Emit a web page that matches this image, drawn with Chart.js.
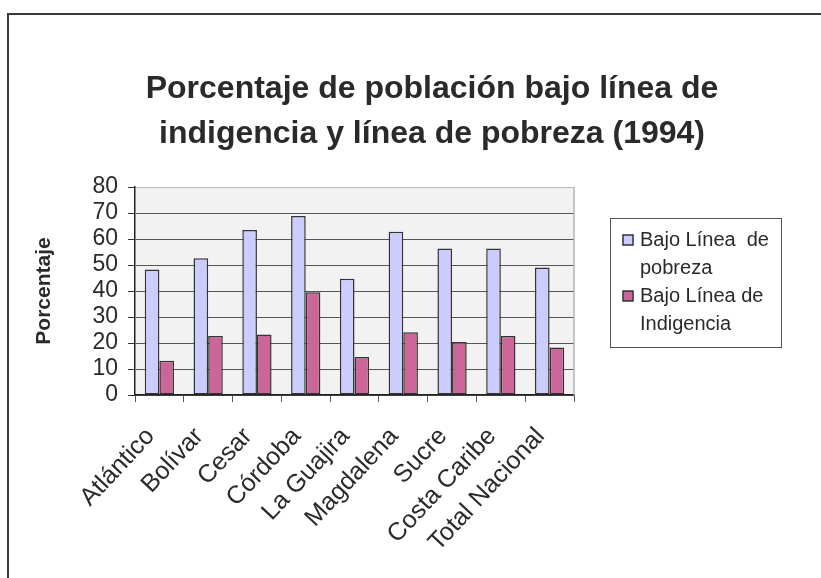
<!DOCTYPE html>
<html>
<head>
<meta charset="utf-8">
<script src="https://cdn.jsdelivr.net/npm/chart.js@4"></script>
<style>
  body { margin: 0; background: #fff; }
  #wrap { position: relative; width: 821px; height: 578px; overflow: hidden; }
  #frame { position: absolute; left: 7px; top: 13px; width: 900px; height: 700px;
           border-left: 2px solid #3a3a3a; border-top: 2px solid #3a3a3a; }
  canvas { position: absolute; left: 0; top: 0; }
</style>
</head>
<body>
<div id="wrap">
  <div id="frame"></div>
  <canvas id="chart" width="821" height="578"></canvas>
</div>
<script>
// datos
var departamentos = ['Atlántico', 'Bolívar', 'Cesar', 'Córdoba', 'La Guajira', 'Magdalena', 'Sucre', 'Costa Caribe', 'Total Nacional'];
var pobreza = [48.3, 52.6, 63.5, 68.8, 44.7, 62.8, 56.3, 56.3, 49.0];
var indigencia = [13.2, 22.7, 23.3, 39.5, 14.6, 24.1, 20.4, 22.7, 18.3];
var yTicks = [0, 10, 20, 30, 40, 50, 60, 70, 80];

var tituloLineas = ['Porcentaje de población bajo línea de', 'indigencia y línea de pobreza (1994)'];
var leyendaLineas = [['Bajo Línea  de', 'pobreza'], ['Bajo Línea de', 'Indigencia']];

var FONT = '"Liberation Sans", Arial, sans-serif';
Chart.defaults.font.family = FONT;

// fondo del area de trazado, titulo y leyenda
var decoracion = {
    id: 'decoracion',
    beforeDraw: function(chart) {
        var a = chart.chartArea, ctx = chart.ctx;
        ctx.save();
        ctx.fillStyle = '#f2f2f2';
        ctx.fillRect(a.left, a.top, a.right - a.left, a.bottom - a.top);
        ctx.restore();
    },
    beforeDatasetsDraw: function(chart) {
        var a = chart.chartArea, ctx = chart.ctx;
        ctx.save();
        ctx.strokeStyle = '#b4b4b4';
        ctx.lineWidth = 1.5;
        ctx.beginPath();
        ctx.moveTo(a.right, a.top);
        ctx.lineTo(a.right, a.bottom);
        ctx.stroke();
        ctx.restore();
    },
    afterDraw: function(chart) {
        var ctx = chart.ctx;
        ctx.save();
        // titulo
        ctx.fillStyle = '#2a2a2a';
        ctx.font = 'bold 32px ' + FONT;
        ctx.textAlign = 'center';
        ctx.textBaseline = 'middle';
        tituloLineas.forEach(function(t, i) {
            ctx.fillText(t, 432, 89 + i * 45);
        });
        // leyenda
        ctx.strokeStyle = '#555';
        ctx.lineWidth = 1;
        ctx.strokeRect(610.5, 218.5, 171, 129);
        ctx.font = '20px ' + FONT;
        ctx.textAlign = 'left';
        var y = 240;
        chart.data.datasets.forEach(function(ds, i) {
            ctx.fillStyle = ds.backgroundColor;
            ctx.fillRect(623, y - 5, 10, 10);
            ctx.strokeStyle = '#333';
            ctx.lineWidth = 1.5;
            ctx.strokeRect(623, y - 5, 10, 10);
            ctx.fillStyle = '#2a2a2a';
            leyendaLineas[i].forEach(function(l) {
                ctx.fillText(l, 640, y);
                y += 28;
            });
        });
        ctx.restore();
    }
};

var ctx = document.getElementById('chart').getContext('2d');
var grafico = new Chart(ctx, {
    type: 'bar',
    data: {
        labels: departamentos,
        datasets: [{
            label: 'Bajo Línea de pobreza',
            data: pobreza,
            backgroundColor: '#ccccff',
            borderColor: '#333333',
            borderWidth: 1.5,
            borderSkipped: false,
            categoryPercentage: 0.6,
            barPercentage: 1.0
        }, {
            label: 'Bajo Línea de Indigencia',
            data: indigencia,
            backgroundColor: '#cc6699',
            borderColor: '#333333',
            borderWidth: 1.5,
            borderSkipped: false,
            categoryPercentage: 0.6,
            barPercentage: 1.0
        }]
    },
    options: {
        responsive: false,
        animation: false,
        layout: { padding: { top: 187, right: 247, left: 0, bottom: 0 } },
        plugins: {
            legend: { display: false },
            title: { display: false },
            tooltip: { enabled: false }
        },
        scales: {
            x: {
                grid: { offset: true, drawOnChartArea: false, drawTicks: true, tickLength: 7, tickColor: '#555' },
                border: { color: '#222', width: 1.5 },
                ticks: { color: '#2a2a2a', font: { size: 25 }, minRotation: 47, maxRotation: 47, padding: 20, labelOffset: -9 },
                afterFit: function(s) { s.height = 183; }
            },
            y: {
                min: 0,
                max: 80,
                afterBuildTicks: function(s) { s.ticks = yTicks.map(function(v) { return { value: v }; }); },
                grid: {
                    color: function(c) { return c.tick && c.tick.value === 80 ? '#b8b8b8' : '#555'; },
                    tickColor: '#333',
                    tickLength: 7
                },
                border: { color: '#222', width: 1.5 },
                ticks: { color: '#2a2a2a', font: { size: 23 }, padding: 10, autoSkip: false },
                title: { display: true, text: 'Porcentaje', color: '#2a2a2a', font: { size: 21, weight: 'bold' }, padding: { top: 32, bottom: 0 } },
                afterFit: function(s) { s.width = 135; }
            }
        }
    },
    plugins: [decoracion]
});
</script>
</body>
</html>
